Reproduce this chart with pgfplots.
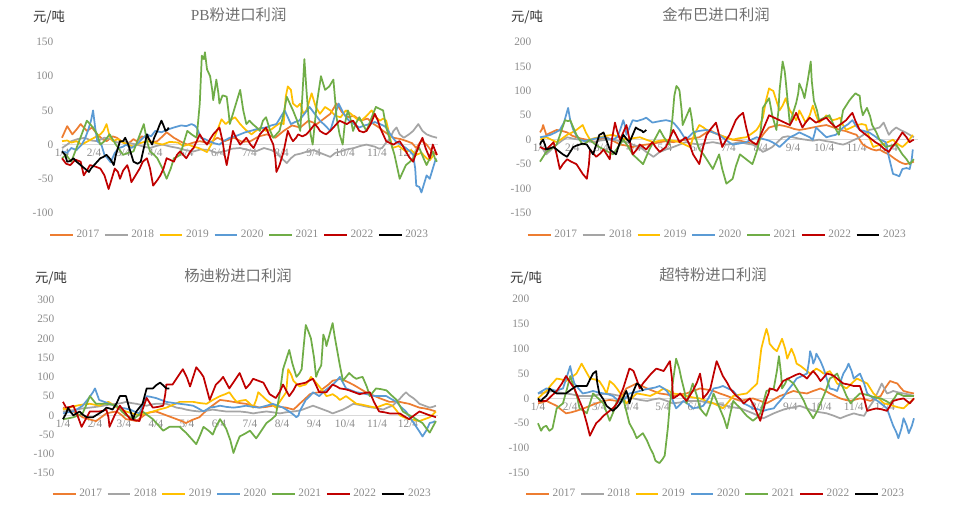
\documentclass[border=0pt]{standalone}
\usepackage{pgfplots}
\pgfplotsset{compat=1.18}
\usepackage{fontspec}
\setmainfont{Liberation Serif}
\newfontfamily\cjk{Noto Sans CJK SC}
\definecolor{c17}{HTML}{ED7D31}
\definecolor{c18}{HTML}{A5A5A5}
\definecolor{c19}{HTML}{FFC000}
\definecolor{c20}{HTML}{5B9BD5}
\definecolor{c21}{HTML}{70AD47}
\definecolor{c22}{HTML}{C00000}
\definecolor{c23}{HTML}{000000}
\definecolor{tickgray}{HTML}{8C8C8C}
\definecolor{titlegray}{HTML}{707070}
\definecolor{zerogray}{HTML}{D9D9D9}
\pgfplotsset{
  panel/.style={
    scale only axis, axis x line=middle, axis y line=left,
    x axis line style={-, draw=zerogray, line width=0.8pt},
    y axis line style={draw=none},
    major tick length=0pt,
    hide obscured x ticks=false,
    xmin=3, xmax=366,
    xtick={3,34,62,93,123,154,184,215,246,276,307,337},
    xticklabels={1/4,2/4,3/4,4/4,5/4,6/4,7/4,8/4,9/4,10/4,11/4,12/4},
    tick label style={font=\fontsize{8.5}{10}\selectfont, text=tickgray},
    yticklabel style={xshift=-3pt},
    /pgf/number format/assume math mode=true,
    clip=false,
    legend columns=7,
    legend style={draw=none, fill=none, font=\fontsize{8.5}{9}\selectfont, text=tickgray, anchor=center,
      /tikz/every even column/.append style={column sep=1.5pt}},
    legend image code/.code={\draw[##1, line width=1.6pt] (0pt,0pt) -- (17pt,0pt);},
    legend entries={2017,2018,2019,2020,2021,2022,2023},
    every axis plot/.append style={line width=1.3pt, line join=round},
    no markers,
  },
}
\begin{document}
\begin{tikzpicture}
\clip (0,0) rectangle (725.25pt,378.75pt);
\fill[white] (0,0) rectangle (725.25pt,378.75pt);
% titles and units
\node[text=titlegray, font=\fontsize{11.5}{12}\selectfont] at (179pt,367.5pt) {PB{\cjk 粉进口利润}};
\node[text=titlegray, font=\fontsize{11.5}{12}\selectfont\cjk] at (537pt,367.5pt) {金布巴进口利润};
\node[text=titlegray, font=\fontsize{11.5}{12}\selectfont\cjk] at (178.5pt,171.75pt) {杨迪粉进口利润};
\node[text=titlegray, font=\fontsize{11.5}{12}\selectfont\cjk] at (534.75pt,172.5pt) {超特粉进口利润};
\node[text=black!80, font=\fontsize{10}{10}\selectfont\cjk] at (36.75pt,366pt) {元/吨};
\node[text=black!80, font=\fontsize{10}{10}\selectfont\cjk] at (395.25pt,366pt) {元/吨};
\node[text=black!80, font=\fontsize{10}{10}\selectfont\cjk] at (38.25pt,170.25pt) {元/吨};
\node[text=black!80, font=\fontsize{10}{10}\selectfont\cjk] at (394.5pt,170.25pt) {元/吨};
\node[text=black!70, font=\fontsize{9}{9}\selectfont\cjk, anchor=north] at (705pt,1.5pt) {数据来源};

% ---------------- Panel 1: PB
\begin{axis}[panel, at={(46.5pt,219pt)}, anchor=south west, width=282pt, height=128.25pt,
  ymin=-100, ymax=150, ytick={-100,-50,0,50,100,150},
  legend style={at={(0.473,-0.129)}}]
\addplot[c17] coordinates {(3,10)(8,27)(13,15)(17,22)(21,30)(27,20)(32,25)(37,15)(42,8)(46,5)(52,12)(56,10)(62,3)(66,0)(72,8)(75,5)(80,12)(85,10)(90,3)(95,5)(100,12)(104,18)(111,10)(118,4)(124,0)(130,3)(136,5)(145,2)(153,10)(160,5)(169,10)(177,4)(185,5)(193,12)(201,15)(209,10)(217,20)(225,28)(233,25)(241,35)(249,30)(256,38)(262,45)(268,60)(273,48)(278,40)(285,42)(291,35)(298,38)(304,30)(309,25)(313,20)(318,15)(323,10)(330,8)(336,5)(341,2)(345,-5)(350,6)(355,0)(360,-10)(365,-15)};
\addplot[c18] coordinates {(3,-5)(8,0)(12,5)(18,8)(25,10)(31,6)(37,5)(44,10)(50,8)(56,3)(62,5)(69,2)(75,0)(82,-3)(88,-5)(94,-2)(100,0)(108,-3)(115,-5)(122,-8)(130,-10)(137,-7)(145,-8)(152,-12)(160,-10)(167,-6)(175,-5)(183,-8)(190,-10)(198,-5)(205,-8)(210,-12)(215,-20)(220,-27)(224,-20)(228,-15)(234,-13)(240,-10)(246,-8)(252,-12)(257,-15)(262,-18)(267,-12)(272,-10)(278,-7)(285,-5)(291,-2)(297,0)(302,-2)(305,-3)(309,-6)(312,-5)(316,3)(320,10)(323,20)(326,25)(329,15)(333,10)(338,15)(342,20)(345,26)(347,30)(351,20)(355,15)(360,12)(365,10)};
\addplot[c19] coordinates {(3,5)(8,6)(12,3)(17,5)(22,0)(28,5)(34,10)(40,15)(43,20)(46,30)(49,12)(52,5)(57,8)(62,3)(67,0)(72,-3)(78,2)(85,5)(92,3)(100,0)(107,4)(115,3)(120,-2)(125,0)(130,-3)(135,-5)(139,-8)(143,-11)(147,0)(150,10)(154,25)(157,37)(161,30)(165,35)(170,40)(175,30)(180,22)(186,15)(190,20)(195,25)(200,20)(205,22)(210,28)(214,32)(217,30)(219,70)(221,85)(224,80)(226,60)(230,55)(233,60)(236,45)(239,50)(242,65)(244,75)(248,55)(252,45)(257,55)(262,50)(267,42)(272,40)(277,50)(282,45)(287,38)(292,35)(297,42)(302,50)(306,40)(310,35)(313,38)(316,35)(319,15)(322,-5)(328,-2)(335,-10)(340,-8)(345,-15)(350,-12)(355,-20)(358,-23)(362,-15)};
\addplot[c20] coordinates {(3,-10)(8,-12)(12,-5)(17,-8)(22,0)(25,8)(28,20)(31,35)(33,50)(35,25)(37,5)(41,0)(44,-15)(47,-20)(50,-26)(54,-12)(58,-5)(62,-3)(65,0)(70,-5)(75,0)(80,8)(85,15)(89,12)(93,20)(99,18)(105,22)(111,25)(118,28)(123,27)(128,30)(131,28)(133,25)(135,18)(137,10)(141,8)(145,5)(150,2)(155,0)(160,6)(165,10)(170,12)(175,15)(180,18)(185,20)(192,23)(200,25)(205,28)(210,30)(214,40)(218,50)(221,40)(224,30)(228,33)(232,35)(237,45)(242,55)(247,45)(252,35)(257,28)(262,20)(266,40)(270,60)(275,45)(280,35)(285,30)(290,25)(295,28)(300,30)(305,33)(310,30)(313,28)(316,25)(320,15)(325,5)(330,0)(335,-5)(339,-10)(342,-15)(344,-35)(345,-60)(348,-62)(350,-70)(353,-55)(355,-45)(358,-50)(361,-35)(364,-20)};
\addplot[c21] coordinates {(3,-20)(7,-15)(12,-25)(17,-5)(22,15)(27,35)(30,30)(33,25)(37,15)(40,0)(44,5)(49,15)(55,0)(62,-15)(67,-12)(72,-10)(77,10)(82,30)(85,5)(88,-10)(92,-15)(95,-20)(100,-35)(104,-50)(108,-35)(111,-20)(114,-18)(117,-15)(121,5)(124,20)(128,15)(133,10)(136,60)(138,130)(140,125)(141,135)(143,110)(146,100)(148,80)(149,65)(151,85)(152,95)(154,75)(155,60)(158,72)(162,70)(164,45)(165,30)(170,55)(175,80)(178,50)(181,30)(184,35)(187,30)(191,25)(194,20)(197,35)(200,40)(204,20)(207,10)(210,15)(213,20)(217,45)(220,70)(223,60)(226,50)(230,35)(233,20)(235,70)(237,125)(239,80)(241,40)(243,15)(245,0)(249,60)(253,100)(255,90)(257,80)(261,85)(265,95)(267,60)(268,40)(271,15)(274,0)(276,30)(279,50)(282,35)(284,20)(287,32)(290,40)(294,28)(297,20)(302,40)(306,55)(310,52)(313,50)(316,25)(319,10)(324,-15)(329,-50)(332,-40)(335,-30)(339,-25)(342,-20)(345,-10)(348,-5)(352,-20)(355,-30)(358,-20)(361,-10)(363,-20)(365,-25)};
\addplot[c22] coordinates {(3,-20)(7,-28)(11,-30)(16,-22)(21,-25)(24,-45)(27,-38)(30,-30)(35,-32)(40,-35)(44,-45)(48,-65)(51,-50)(54,-35)(57,-40)(59,-50)(62,-38)(66,-30)(68,-40)(70,-55)(74,-45)(78,-35)(81,-25)(85,-20)(88,-35)(91,-60)(95,-52)(98,-45)(101,-35)(104,-20)(107,-22)(111,-25)(114,-15)(117,-10)(120,-15)(123,-20)(127,-10)(130,-5)(133,5)(136,15)(140,5)(143,0)(146,8)(149,15)(152,20)(155,25)(158,5)(160,-15)(162,-30)(165,-5)(168,20)(171,10)(175,0)(178,5)(181,10)(185,0)(188,-5)(191,5)(194,15)(197,20)(200,25)(204,10)(207,0)(209,-20)(210,-40)(213,-30)(217,-10)(219,5)(221,20)(224,10)(226,5)(229,10)(231,15)(235,12)(239,15)(243,22)(247,30)(250,25)(252,20)(255,17)(258,15)(262,20)(265,25)(268,30)(271,35)(275,32)(278,30)(281,33)(284,35)(287,28)(290,20)(294,18)(297,20)(301,30)(305,45)(308,35)(310,25)(313,15)(316,5)(320,2)(323,0)(326,3)(329,5)(332,-2)(335,-10)(338,-18)(342,-25)(345,-12)(348,0)(351,10)(354,-5)(358,-20)(361,0)(363,-8)(365,-15)};
\addplot[c23] coordinates {(3,-10)(6,-15)(8,-25)(11,-24)(14,-20)(17,-25)(21,-30)(25,-35)(29,-40)(31,-35)(34,-30)(37,-25)(40,-20)(43,-18)(46,-15)(50,-22)(53,-30)(55,-15)(58,0)(59,5)(62,5)(64,10)(67,0)(70,-15)(72,-25)(76,-28)(79,-25)(82,-5)(85,15)(87,8)(90,0)(92,10)(95,20)(97,28)(99,35)(101,28)(103,20)(105,22)(106,25)};
\end{axis}

% ---------------- Panel 2: Jinbuba
\begin{axis}[panel, at={(405pt,219pt)}, anchor=south west, width=283.5pt, height=128.25pt,
  ymin=-150, ymax=200, ytick={-150,-100,-50,0,50,100,150,200},
  legend style={at={(0.47,-0.129)}}]
\addplot[c17] coordinates {(3,15)(5,22)(6,30)(9,10)(14,15)(19,20)(24,18)(29,15)(34,8)(38,5)(43,2)(48,0)(53,-3)(57,-5)(62,2)(67,5)(73,-2)(80,-10)(86,-12)(92,-15)(98,-12)(105,-10)(112,-8)(118,-5)(124,-3)(131,-5)(137,-2)(143,0)(150,3)(156,5)(161,12)(166,20)(170,15)(175,10)(181,5)(188,0)(195,-2)(201,-5)(206,-8)(211,-10)(214,0)(217,10)(220,18)(223,25)(228,28)(233,30)(238,28)(243,25)(247,22)(252,20)(258,22)(265,25)(272,28)(278,30)(285,25)(291,20)(296,18)(300,15)(304,12)(307,10)(310,0)(313,-10)(317,-15)(322,-20)(326,-22)(329,-20)(333,-25)(338,-30)(343,-38)(348,-45)(351,-48)(354,-50)(358,-48)(362,-45)};
\addplot[c18] coordinates {(3,-10)(6,-20)(9,-30)(14,-20)(19,-10)(24,-2)(29,5)(35,2)(41,0)(47,-3)(54,-5)(60,-2)(67,0)(73,0)(80,-3)(86,-5)(92,-10)(99,-15)(105,-25)(112,-35)(115,-30)(118,-25)(124,-20)(131,-15)(137,-10)(143,-5)(150,-8)(156,-10)(163,-7)(169,-5)(176,-8)(182,-10)(188,-8)(195,-5)(201,-8)(207,-10)(212,-15)(217,-25)(222,-20)(226,-15)(231,-5)(236,5)(241,7)(246,5)(252,2)(258,0)(265,-2)(271,0)(278,-3)(284,-5)(289,-8)(294,-10)(297,-8)(300,-5)(305,0)(310,5)(315,12)(319,20)(324,22)(329,25)(331,30)(333,35)(336,20)(338,10)(341,18)(345,25)(349,20)(354,15)(358,10)(362,5)};
\addplot[c19] coordinates {(3,0)(6,3)(9,5)(14,0)(19,-5)(24,2)(29,10)(34,15)(38,20)(41,25)(44,30)(47,15)(51,0)(55,3)(60,5)(66,8)(73,10)(79,5)(86,0)(92,3)(99,5)(105,0)(112,-5)(118,-2)(124,0)(131,-2)(137,-5)(142,-10)(147,-15)(151,10)(156,30)(160,25)(163,20)(169,15)(175,10)(181,5)(188,0)(194,3)(201,5)(206,12)(211,20)(214,30)(217,45)(220,80)(223,105)(225,102)(227,100)(230,80)(233,60)(236,70)(239,85)(241,70)(243,60)(246,50)(249,40)(251,50)(252,60)(255,48)(258,35)(262,50)(265,70)(268,50)(271,35)(275,42)(278,50)(281,45)(284,40)(288,42)(291,45)(294,30)(297,20)(302,25)(307,30)(312,32)(316,30)(319,5)(323,-15)(327,-12)(332,-10)(337,-5)(342,0)(346,-8)(351,-15)(356,-5)(361,10)};
\addplot[c20] coordinates {(3,5)(8,7)(13,10)(18,15)(22,20)(26,35)(28,50)(30,65)(32,40)(35,20)(38,8)(41,0)(46,-3)(51,0)(58,3)(64,5)(69,2)(73,0)(77,5)(80,20)(83,40)(85,25)(86,10)(89,25)(92,40)(96,38)(99,40)(102,42)(105,45)(108,40)(111,35)(118,38)(124,40)(128,38)(131,35)(134,28)(137,20)(140,10)(143,0)(147,8)(150,15)(156,18)(163,20)(169,15)(175,10)(181,0)(188,-10)(194,-8)(201,-5)(206,0)(211,5)(216,2)(220,0)(223,-2)(226,-5)(230,-10)(233,-15)(238,-5)(243,5)(248,10)(252,15)(257,10)(262,5)(265,0)(267,15)(268,25)(273,15)(278,5)(283,8)(287,10)(291,18)(294,25)(299,32)(303,40)(306,30)(310,20)(314,18)(319,15)(324,8)(329,0)(332,-2)(335,-5)(338,-35)(342,-70)(345,-72)(348,-75)(350,-65)(351,-60)(355,-58)(358,-60)(360,-40)(361,-20)};
\addplot[c21] coordinates {(3,-45)(6,-35)(9,-25)(14,-18)(19,-10)(23,15)(27,40)(30,38)(32,40)(35,25)(38,10)(41,0)(44,-10)(48,-5)(51,0)(55,-8)(60,-15)(66,-22)(73,-30)(78,-15)(83,0)(88,-15)(92,-30)(97,-40)(102,-50)(105,-35)(108,-20)(113,0)(118,20)(122,5)(127,-10)(130,40)(132,90)(134,110)(136,105)(137,100)(139,60)(140,30)(143,45)(147,65)(149,40)(150,20)(153,0)(156,-20)(160,-30)(163,-40)(166,-50)(169,-60)(172,-45)(175,-30)(178,-60)(182,-90)(185,-85)(188,-80)(191,-55)(195,-30)(198,-35)(201,-40)(204,-45)(207,-50)(211,-25)(214,0)(216,40)(217,65)(220,75)(223,85)(226,50)(230,20)(232,60)(233,100)(235,140)(236,160)(238,140)(239,120)(241,75)(243,30)(246,55)(249,75)(251,95)(252,115)(255,100)(257,85)(260,120)(263,160)(264,120)(266,80)(269,60)(271,40)(276,45)(281,50)(285,30)(290,10)(292,35)(294,60)(297,70)(300,80)(303,88)(306,95)(308,92)(310,90)(311,70)(313,50)(315,58)(317,65)(320,48)(322,30)(326,15)(329,0)(332,-8)(335,-15)(340,-12)(345,-10)(348,-20)(351,-30)(355,-40)(358,-50)(360,-45)(362,-40)};
\addplot[c22] coordinates {(3,-15)(6,-18)(9,-20)(13,-12)(16,-5)(19,-30)(22,-60)(25,-50)(29,-40)(33,-45)(38,-50)(41,-60)(44,-70)(46,-75)(48,-80)(50,-50)(51,-20)(54,-28)(57,-35)(61,-28)(64,-20)(67,-30)(70,-40)(72,0)(75,35)(77,18)(80,0)(83,15)(86,30)(89,0)(92,-30)(96,-20)(99,-10)(102,-15)(105,-20)(108,-12)(111,-5)(114,-15)(118,-25)(121,-20)(124,-15)(127,0)(131,20)(134,8)(137,-5)(140,0)(143,5)(147,-12)(150,-30)(153,-40)(156,-50)(159,-20)(163,10)(167,22)(172,35)(175,10)(178,-15)(181,-3)(185,10)(188,25)(191,40)(194,48)(198,55)(201,25)(204,0)(207,-5)(211,-10)(214,5)(217,20)(220,35)(223,50)(228,45)(233,40)(238,35)(243,30)(246,42)(249,55)(252,40)(255,25)(258,35)(262,45)(265,40)(268,35)(273,40)(278,45)(282,35)(287,25)(292,32)(297,40)(300,48)(303,55)(306,38)(310,20)(313,15)(316,10)(319,5)(322,0)(325,-5)(329,-10)(333,-18)(338,-25)(341,-15)(345,-5)(348,5)(351,15)(355,5)(358,-5)(360,-2)(362,0)};
\addplot[c23] coordinates {(3,-10)(4,-5)(6,0)(8,-12)(9,-20)(12,-18)(16,-15)(19,-20)(22,-25)(25,-30)(29,-35)(32,-25)(35,-15)(38,-12)(41,-10)(44,-8)(48,-10)(51,-20)(54,-30)(57,-10)(60,10)(62,12)(64,15)(67,-2)(70,-20)(73,-25)(76,-30)(79,-10)(83,10)(86,2)(89,-5)(92,10)(95,25)(97,22)(99,20)(101,18)(102,15)(104,18)(105,20)};
\end{axis}

% ---------------- Panel 3: Yangdi
\begin{axis}[panel, at={(47.25pt,24pt)}, anchor=south west, width=281.25pt, height=129.75pt,
  ymin=-150, ymax=300, ytick={-150,-100,-50,0,50,100,150,200,250,300},
  legend style={at={(0.479,-0.121)}}]
\addplot[c17] coordinates {(3,20)(8,15)(13,10)(18,2)(22,-5)(28,-10)(35,-15)(40,-5)(45,5)(50,8)(55,10)(60,0)(64,-10)(69,-12)(74,-15)(79,-5)(84,5)(88,8)(93,10)(98,5)(103,0)(108,-5)(113,-10)(118,-15)(122,-20)(128,-12)(135,-5)(140,8)(145,20)(150,30)(155,40)(161,38)(168,35)(174,32)(180,30)(187,25)(193,20)(200,22)(206,25)(213,22)(219,20)(226,15)(229,22)(232,30)(237,42)(242,55)(246,58)(251,60)(255,70)(260,80)(264,90)(268,92)(271,95)(276,90)(280,85)(285,78)(290,70)(295,62)(300,55)(305,50)(309,45)(314,40)(319,35)(324,35)(329,35)(334,32)(338,30)(343,25)(348,20)(353,18)(358,15)(364,10)};
\addplot[c18] coordinates {(3,10)(10,12)(16,15)(22,18)(29,20)(35,22)(42,25)(48,28)(55,30)(60,32)(64,35)(69,32)(74,30)(79,27)(84,25)(88,28)(93,30)(98,30)(103,30)(108,25)(113,20)(118,18)(122,15)(128,12)(135,10)(142,12)(148,15)(155,12)(161,10)(168,10)(174,10)(181,8)(187,5)(194,8)(200,10)(206,8)(213,5)(219,8)(226,10)(231,12)(235,15)(240,20)(245,25)(250,20)(255,15)(260,10)(264,5)(269,10)(274,15)(279,22)(284,30)(288,28)(293,25)(298,22)(303,20)(308,18)(313,15)(317,20)(322,25)(328,40)(332,52)(335,60)(338,52)(342,45)(345,38)(348,30)(353,25)(358,20)(361,22)(364,25)};
\addplot[c19] coordinates {(3,15)(9,20)(16,25)(22,28)(29,30)(33,28)(38,25)(42,30)(47,35)(51,28)(55,20)(60,15)(64,10)(70,5)(77,0)(83,5)(90,10)(96,15)(103,20)(110,28)(116,35)(122,35)(129,35)(135,32)(142,30)(148,40)(155,50)(160,55)(164,60)(168,45)(171,35)(175,38)(180,40)(184,30)(187,20)(190,40)(192,60)(196,50)(200,40)(205,30)(209,20)(214,40)(219,60)(220,90)(221,120)(224,105)(226,90)(229,82)(232,75)(235,78)(238,80)(241,90)(243,100)(247,88)(251,75)(255,62)(258,50)(261,52)(264,55)(268,48)(271,40)(274,45)(277,50)(282,40)(287,30)(292,28)(297,25)(302,22)(306,20)(311,25)(316,30)(319,28)(322,25)(326,12)(329,0)(333,-5)(338,-10)(343,-12)(348,-15)(353,-10)(358,-5)(361,2)(364,10)};
\addplot[c20] coordinates {(3,5)(8,8)(13,10)(18,18)(22,25)(28,45)(32,60)(34,70)(36,55)(38,40)(43,35)(48,30)(53,25)(58,20)(63,18)(68,15)(72,10)(77,5)(80,25)(84,50)(88,48)(93,45)(98,40)(103,35)(110,32)(116,30)(122,28)(129,25)(134,18)(139,10)(142,15)(145,20)(150,22)(155,25)(161,22)(168,20)(174,22)(180,25)(187,22)(193,20)(200,25)(206,30)(211,25)(216,20)(219,15)(222,10)(226,2)(229,-5)(231,0)(232,10)(235,25)(238,40)(242,50)(245,60)(248,55)(251,50)(257,65)(264,80)(268,90)(271,100)(274,85)(277,70)(282,65)(287,60)(292,58)(297,55)(301,52)(306,50)(311,50)(316,50)(321,42)(326,35)(330,22)(335,10)(340,-10)(345,-30)(348,-42)(351,-55)(355,-38)(358,-20)(361,-18)(363,-15)};
\addplot[c21] coordinates {(3,-10)(8,-8)(13,-5)(18,0)(22,5)(26,30)(29,50)(32,40)(35,30)(40,30)(45,30)(50,28)(55,25)(60,10)(64,0)(68,-5)(71,-10)(76,0)(80,10)(85,0)(90,-10)(95,-25)(100,-40)(103,-35)(106,-30)(111,-30)(116,-30)(119,-38)(122,-45)(127,-60)(132,-75)(136,-50)(139,-30)(144,-40)(148,-50)(151,-30)(155,-10)(158,-22)(161,-35)(165,-65)(168,-98)(171,-75)(174,-55)(179,-48)(184,-40)(187,-50)(190,-60)(195,-40)(200,-20)(205,-10)(209,0)(213,60)(216,120)(219,145)(222,170)(225,135)(229,100)(232,110)(234,120)(236,180)(238,235)(241,215)(243,200)(246,150)(248,100)(250,115)(253,130)(254,170)(255,210)(257,195)(258,180)(261,210)(264,240)(266,205)(268,175)(271,130)(274,90)(277,100)(280,110)(284,100)(287,95)(290,98)(293,100)(297,75)(300,50)(303,60)(306,70)(311,68)(316,65)(321,52)(326,40)(329,25)(332,10)(337,2)(342,-5)(346,-12)(351,-20)(355,-35)(358,-45)(361,-30)(364,-15)};
\addplot[c22] coordinates {(3,35)(5,25)(6,20)(10,22)(13,25)(17,0)(21,-30)(25,-10)(29,10)(33,10)(38,10)(42,12)(45,15)(47,-5)(48,-30)(53,0)(58,25)(63,8)(68,-10)(72,-12)(77,-15)(80,15)(84,45)(87,32)(90,20)(95,22)(100,25)(102,55)(103,80)(106,80)(109,80)(114,100)(119,120)(123,98)(126,75)(129,100)(132,125)(136,112)(139,100)(142,70)(145,40)(148,60)(151,80)(155,90)(158,100)(161,85)(164,70)(169,90)(174,110)(177,90)(180,70)(184,82)(187,95)(192,90)(197,85)(200,70)(203,55)(206,50)(209,45)(213,62)(216,80)(219,65)(222,50)(226,65)(229,80)(233,82)(238,85)(241,90)(245,95)(248,78)(251,60)(255,60)(258,60)(261,70)(264,80)(268,75)(271,70)(276,68)(280,65)(285,60)(290,55)(295,58)(300,60)(304,35)(309,10)(314,8)(319,5)(324,5)(329,5)(333,-2)(338,-10)(343,0)(348,10)(353,5)(358,0)(361,-2)(364,-5)};
\addplot[c23] coordinates {(3,-10)(6,5)(8,20)(10,10)(13,0)(16,5)(19,10)(22,2)(26,-5)(29,-5)(32,-5)(35,0)(38,5)(42,12)(45,20)(48,18)(51,15)(55,32)(58,50)(61,50)(64,50)(67,20)(71,-10)(72,0)(74,10)(77,20)(80,30)(82,50)(84,70)(87,70)(90,70)(93,78)(97,85)(100,78)(103,70)(105,70)(106,70)};
\end{axis}

% ---------------- Panel 4: Chaote
\begin{axis}[panel, at={(403.5pt,24pt)}, anchor=south west, width=282.75pt, height=130.5pt,
  ymin=-150, ymax=200, ytick={-150,-100,-50,0,50,100,150,200},
  legend style={at={(0.472,-0.121)}}]
\addplot[c17] coordinates {(3,-10)(7,-8)(11,-5)(16,-10)(21,-15)(25,-22)(30,-30)(35,-28)(40,-25)(47,-20)(53,-15)(59,-10)(66,-5)(72,-3)(79,-5)(84,5)(88,20)(93,25)(98,30)(103,25)(108,20)(114,15)(120,10)(127,8)(133,5)(140,8)(146,10)(152,15)(159,20)(165,18)(172,15)(178,10)(185,5)(191,0)(198,-5)(204,-2)(210,0)(217,-5)(223,-10)(230,-2)(236,5)(243,10)(249,15)(255,12)(262,10)(268,15)(275,20)(280,15)(284,10)(289,5)(294,0)(299,-3)(304,-5)(309,-2)(313,0)(318,-2)(323,-5)(328,0)(333,5)(337,20)(342,35)(346,32)(349,30)(352,22)(355,15)(360,12)(365,10)};
\addplot[c18] coordinates {(3,10)(10,12)(17,15)(23,12)(30,10)(36,8)(43,5)(50,5)(56,5)(62,8)(69,10)(75,8)(82,5)(88,2)(95,0)(101,-3)(108,-5)(114,-2)(120,0)(127,-5)(133,-10)(140,-8)(146,-5)(152,-5)(159,-5)(165,-8)(172,-10)(178,-12)(185,-15)(191,-18)(198,-20)(204,-25)(210,-30)(215,-35)(220,-40)(225,-35)(230,-30)(236,-25)(243,-20)(249,-18)(255,-15)(262,-20)(268,-25)(275,-28)(281,-30)(288,-35)(294,-40)(300,-35)(307,-30)(312,-33)(317,-35)(321,-20)(326,-5)(330,12)(334,30)(337,18)(339,10)(342,12)(345,15)(350,12)(355,10)(360,8)(365,5)};
\addplot[c19] coordinates {(3,0)(7,8)(11,15)(16,28)(21,40)(26,38)(30,35)(35,42)(40,50)(43,62)(45,70)(49,55)(53,40)(58,38)(62,35)(66,22)(69,10)(71,25)(72,35)(76,28)(79,20)(84,5)(88,-10)(93,0)(98,10)(104,8)(111,5)(118,12)(124,20)(129,15)(133,10)(140,8)(146,5)(152,2)(159,0)(165,-5)(172,-10)(177,-15)(181,-20)(186,-8)(191,5)(198,8)(204,10)(209,20)(214,30)(216,65)(218,100)(221,125)(223,140)(225,125)(226,110)(230,100)(233,95)(236,110)(238,120)(241,100)(243,80)(245,90)(247,100)(250,85)(252,70)(256,65)(259,60)(262,55)(265,50)(268,55)(271,60)(275,55)(278,50)(281,52)(284,55)(288,42)(291,30)(296,25)(300,20)(305,30)(310,40)(315,35)(320,30)(323,20)(326,10)(331,0)(336,-10)(341,-12)(345,-15)(350,-18)(355,-20)(360,-10)(365,0)};
\addplot[c20] coordinates {(3,10)(7,15)(11,20)(16,18)(21,15)(24,18)(27,20)(31,45)(34,65)(36,45)(38,30)(42,20)(46,10)(51,12)(56,15)(61,12)(66,10)(71,8)(75,5)(79,-2)(82,-10)(87,0)(91,10)(96,12)(101,15)(106,18)(111,20)(116,22)(120,25)(124,20)(127,15)(132,0)(136,-20)(140,-12)(143,-5)(148,-12)(152,-20)(157,-18)(162,-15)(167,0)(172,20)(177,22)(181,25)(186,20)(191,15)(196,2)(201,-10)(206,-15)(210,-20)(215,-22)(220,-25)(225,-22)(230,-20)(233,-12)(236,-5)(240,5)(243,15)(248,28)(252,40)(257,45)(262,50)(264,75)(265,95)(267,82)(268,70)(270,80)(271,90)(275,75)(278,60)(281,40)(284,20)(288,18)(291,15)(294,32)(297,50)(300,60)(302,70)(305,55)(307,40)(310,45)(313,50)(317,30)(320,10)(323,5)(326,0)(330,-5)(333,-10)(336,-15)(339,-20)(342,-38)(345,-55)(348,-68)(350,-80)(353,-60)(355,-40)(358,-55)(360,-70)(363,-55)(365,-40)};
\addplot[c21] coordinates {(3,-50)(5,-60)(6,-65)(8,-58)(11,-55)(13,-62)(14,-65)(16,-62)(17,-60)(19,-40)(21,-20)(24,-15)(27,-10)(31,20)(34,45)(36,32)(38,20)(41,0)(43,-20)(47,-25)(50,-30)(53,-10)(56,10)(61,0)(66,-10)(69,-28)(72,-45)(76,-25)(79,-5)(82,-2)(85,0)(88,-25)(91,-50)(95,-65)(98,-80)(101,-75)(104,-70)(108,-85)(111,-100)(114,-112)(116,-125)(118,-128)(120,-130)(123,-122)(125,-115)(128,-60)(130,-10)(133,35)(136,80)(139,60)(141,40)(144,15)(146,-10)(149,10)(152,30)(156,5)(159,-20)(162,-28)(165,-35)(169,-12)(172,10)(175,-5)(178,-20)(182,-40)(185,-60)(188,-32)(191,-5)(194,-12)(198,-20)(201,-28)(204,-35)(207,-40)(210,-45)(214,-38)(217,-30)(220,-8)(223,15)(227,18)(230,20)(233,55)(235,85)(237,50)(238,20)(241,30)(243,40)(246,35)(249,30)(252,20)(255,10)(259,-5)(262,-20)(265,-30)(268,-40)(272,-25)(275,-10)(280,15)(284,40)(288,45)(291,50)(294,35)(297,20)(300,5)(304,-10)(308,0)(313,10)(318,8)(323,5)(328,2)(333,0)(338,-5)(342,-10)(346,0)(349,10)(352,8)(355,5)(360,5)(365,5)};
\addplot[c22] coordinates {(3,-5)(7,-5)(11,-5)(16,5)(21,15)(26,30)(30,45)(34,32)(38,20)(42,0)(46,-20)(50,-50)(53,-75)(56,-62)(59,-50)(63,-42)(66,-35)(69,-30)(72,-25)(76,-18)(79,-10)(82,5)(85,20)(88,40)(91,60)(93,58)(95,55)(98,38)(101,20)(104,30)(108,40)(112,50)(117,60)(120,58)(124,55)(127,65)(130,75)(132,40)(133,0)(137,5)(140,10)(143,2)(146,-5)(149,5)(152,15)(156,32)(159,50)(161,25)(162,0)(166,10)(169,20)(172,48)(175,75)(178,60)(181,45)(185,32)(188,20)(191,12)(194,5)(198,-2)(201,-10)(204,-5)(207,0)(211,-15)(214,-30)(217,-45)(220,-22)(223,0)(225,10)(226,20)(230,18)(233,15)(236,25)(239,35)(244,40)(249,45)(252,48)(255,50)(259,45)(262,40)(265,48)(268,55)(272,45)(275,35)(278,42)(281,50)(285,48)(288,45)(292,38)(297,30)(302,28)(307,25)(310,25)(313,25)(317,0)(320,-25)(325,-22)(329,-20)(334,-22)(339,-25)(342,-15)(345,-5)(350,-2)(355,0)(358,-5)(361,-10)(363,-5)(365,0)};
\addplot[c23] coordinates {(3,0)(4,-3)(6,-5)(8,0)(11,5)(13,12)(14,20)(17,15)(21,10)(25,10)(30,10)(35,18)(40,25)(45,25)(50,25)(53,38)(56,50)(59,55)(60,32)(62,10)(66,-2)(69,-15)(72,-20)(75,-25)(79,-18)(82,-10)(85,2)(88,15)(90,2)(91,-10)(94,10)(98,30)(100,28)(101,25)(103,20)(104,15)};
\end{axis}
\end{tikzpicture}
\end{document}
